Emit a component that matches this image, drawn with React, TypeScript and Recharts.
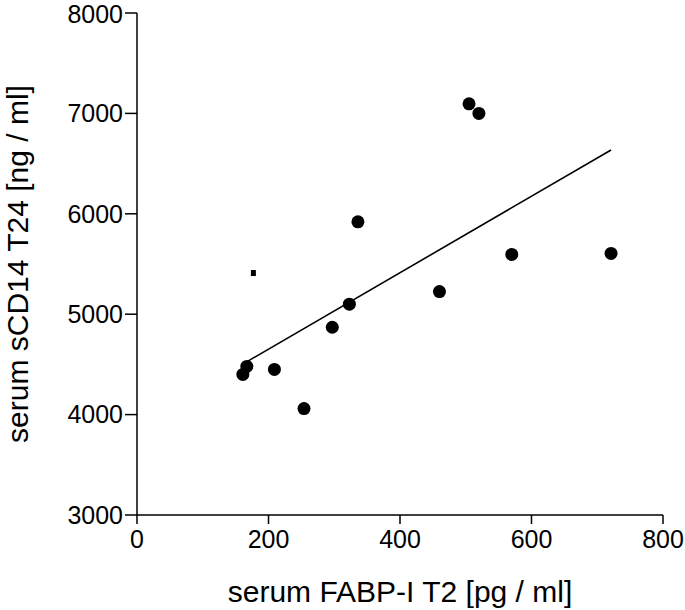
import { ScatterChart, Scatter, XAxis, YAxis, Label } from 'recharts'

const fabp = [161, 167, 209, 254, 297, 323, 336, 460, 505, 520, 570, 721]
const scd14 = [4400, 4480, 4450, 4060, 4870, 5100, 5920, 5225, 7095, 7000, 5595, 5605]

// small square marker left of the cloud
const outlierX = [177]
const outlierY = [5410]

// fitted line end points
const fitX = [168, 721]
const fitY = [4530, 6635]

const xTicks = [0, 200, 400, 600, 800]
const yTicks = [3000, 4000, 5000, 6000, 7000, 8000]

const points = fabp.map((x, i) => ({ x, y: scd14[i] }))
const outliers = outlierX.map((x, i) => ({ x, y: outlierY[i] }))
const fit = fitX.map((x, i) => ({ x, y: fitY[i] }))

const font = '"Liberation Sans", Arial, sans-serif'

const Dot = (p: any) => <circle cx={p.cx} cy={p.cy} r={6.5} fill="#000" />
const Square = (p: any) => <rect x={p.cx - 2.5} y={p.cy - 3} width={5} height={6} fill="#000" />
const NoDot = () => <g />

const yTitle = (p: any) => {
  const vb = p.viewBox
  const x = vb.x + 28
  const y = vb.y + vb.height / 2
  return (
    <text x={x} y={y} transform={`rotate(-90 ${x} ${y})`} textAnchor="middle"
      fontSize={30} fontFamily={font} fill="#000">
      serum sCD14 T24 [ng / ml]
    </text>
  )
}

const xTitle = (p: any) => {
  const vb = p.viewBox
  return (
    <text x={vb.x + vb.width / 2} y={vb.y + 87} textAnchor="middle"
      fontSize={30} fontFamily={font} fill="#000">
      serum FABP-I T2 [pg / ml]
    </text>
  )
}

export default function App() {
  const axis = { stroke: '#000', strokeWidth: 1.5 }
  const tick = { fill: '#000', fontSize: 25, fontFamily: font }
  return (
    <div style={{ position: 'absolute', left: 0, top: 0, background: '#fff' }}>
      <ScatterChart width={685} height={610} margin={{ top: 13, right: 22, left: 0, bottom: 0 }}>
        <XAxis type="number" dataKey="x" domain={[0, 800]} ticks={xTicks} height={95}
          axisLine={axis} tickLine={axis} tickSize={9} tickMargin={6} tick={tick}>
          <Label content={xTitle} />
        </XAxis>
        <YAxis type="number" dataKey="y" domain={[3000, 8000]} ticks={yTicks} width={137}
          axisLine={axis} tickLine={axis} tickSize={12} tickMargin={2} tick={tick}>
          <Label content={yTitle} />
        </YAxis>
        <Scatter data={fit} line={{ stroke: '#000', strokeWidth: 1.6 }} shape={NoDot} isAnimationActive={false} />
        <Scatter data={points} shape={Dot} isAnimationActive={false} />
        <Scatter data={outliers} shape={Square} isAnimationActive={false} />
      </ScatterChart>
    </div>
  )
}
